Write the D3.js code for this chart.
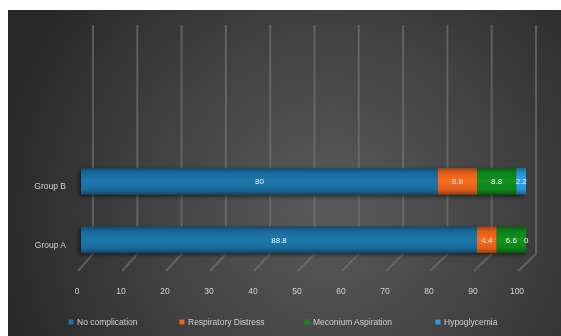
<!DOCTYPE html>
<html>
<head>
<meta charset="utf-8">
<script src="https://cdnjs.cloudflare.com/ajax/libs/d3/7.8.5/d3.min.js"></script>
<style>
  body { margin: 0; background: #fff; }
  svg { display: block; font-family: "Liberation Sans", Arial, sans-serif; }
</style>
</head>
<body>
<div id="chart"></div>
<script>
var groups = ["Group A", "Group B"];
var seriesNames = ["No complication", "Respiratory Distress", "Meconium Aspiration", "Hypoglycemia"];
var noComplication = [88.8, 80];
var respiratoryDistress = [4.4, 8.8];
var meconiumAspiration = [6.6, 8.8];
var hypoglycemia = [0, 2.2];
var tickValues = [0, 10, 20, 30, 40, 50, 60, 70, 80, 90, 100];
var colors = ["#1b72a6", "#f0661c", "#118c1c", "#2b9de2"];

var W = 561, H = 336;

var svg = d3.select("#chart").append("svg")
    .attr("width", W)
    .attr("height", H);

var defs = svg.append("defs");

// dark radial background
var bg = defs.append("radialGradient").attr("id", "bg")
    .attr("gradientUnits", "userSpaceOnUse")
    .attr("cx", 330).attr("cy", 210).attr("r", 340);
bg.append("stop").attr("offset", "0%").attr("stop-color", "#5a5a5a");
bg.append("stop").attr("offset", "50%").attr("stop-color", "#434343");
bg.append("stop").attr("offset", "100%").attr("stop-color", "#282828");

// cylinder-ish shading per series
colors.forEach(function (c, i) {
    var g = defs.append("linearGradient").attr("id", "bar" + i)
        .attr("x1", 0).attr("y1", 0).attr("x2", 0).attr("y2", 1);
    var base = d3.color(c);
    g.append("stop").attr("offset", "0%").attr("stop-color", base.darker(1.2));
    g.append("stop").attr("offset", "18%").attr("stop-color", base.darker(0.2));
    g.append("stop").attr("offset", "50%").attr("stop-color", base.brighter(0.15));
    g.append("stop").attr("offset", "82%").attr("stop-color", base.darker(0.2));
    g.append("stop").attr("offset", "100%").attr("stop-color", base.darker(1.3));
});

var shadow = defs.append("filter").attr("id", "shadow")
    .attr("x", "-5%").attr("y", "-30%").attr("width", "110%").attr("height", "160%");
shadow.append("feDropShadow").attr("dx", -2).attr("dy", 2).attr("stdDeviation", 2)
    .attr("flood-color", "#000").attr("flood-opacity", 0.55);

var blur = defs.append("filter").attr("id", "soft");
blur.append("feGaussianBlur").attr("stdDeviation", 0.7);

svg.append("rect")
    .attr("x", 8).attr("y", 10)
    .attr("width", W - 8).attr("height", H - 10)
    .attr("fill", "url(#bg)");

// scales: front floor (labels), bars, back wall (gridlines)
var xAxisScale = d3.scaleLinear().domain([0, 100]).range([77, 517]);
var x = d3.scaleLinear().domain([0, 100]).range([81, 527]);
var xWall = d3.scaleLinear().domain([0, 100]).range([93, 536]);

var y = d3.scaleBand()
    .domain(["Group B", "Group A"])
    .range([152, 269])
    .paddingInner(0.55)
    .paddingOuter(0.275);

// gridlines: back wall vertical + floor diagonal
var grid = svg.append("g").attr("filter", "url(#soft)");
grid.selectAll(".wall")
    .data(tickValues)
    .enter().append("path")
    .attr("d", function (d) {
        return "M" + xWall(d) + ",25V254L" + (xAxisScale(d) + 1) + ",271";
    })
    .attr("fill", "none")
    .attr("stroke", "#767676")
    .attr("stroke-opacity", 0.6)
    .attr("stroke-width", 2);

// stack data
var table = groups.map(function (g, i) {
    return {
        group: g,
        "No complication": noComplication[i],
        "Respiratory Distress": respiratoryDistress[i],
        "Meconium Aspiration": meconiumAspiration[i],
        "Hypoglycemia": hypoglycemia[i]
    };
});
var stacked = d3.stack().keys(seriesNames)(table);

var bars = svg.append("g").attr("filter", "url(#shadow)");
stacked.forEach(function (layer, i) {
    bars.selectAll(".s" + i)
        .data(layer)
        .enter().append("rect")
        .attr("x", function (d) { return x(d[0]); })
        .attr("y", function (d) { return y(d.data.group); })
        .attr("width", function (d) { return x(d[1]) - x(d[0]); })
        .attr("height", y.bandwidth())
        .attr("fill", "url(#bar" + i + ")");
});

// data labels
var labels = svg.append("g").attr("filter", "url(#soft)");
stacked.forEach(function (layer, i) {
    labels.selectAll(".l" + i)
        .data(layer)
        .enter().append("text")
        .attr("x", function (d) { return x((d[0] + d[1]) / 2); })
        .attr("y", function (d) { return y(d.data.group) + y.bandwidth() / 2; })
        .attr("dy", "0.35em")
        .attr("text-anchor", "middle")
        .attr("font-size", 8)
        .attr("fill", "#e8f2ff")
        .text(function (d) { return d.data[layer.key]; });
});

// category labels
svg.append("g").attr("filter", "url(#soft)")
    .selectAll("text")
    .data(groups)
    .enter().append("text")
    .attr("x", 66)
    .attr("y", function (d) { return y(d) + y.bandwidth() / 2 + 8; })
    .attr("text-anchor", "end")
    .attr("font-size", 8.5)
    .attr("fill", "#d0d0d0")
    .text(function (d) { return d; });

// x tick labels
svg.append("g").attr("filter", "url(#soft)")
    .selectAll("text")
    .data(tickValues)
    .enter().append("text")
    .attr("x", function (d) { return xAxisScale(d); })
    .attr("y", 294)
    .attr("text-anchor", "middle")
    .attr("font-size", 8.5)
    .attr("fill", "#d0d0d0")
    .text(function (d) { return d; });

// legend
var legendX = [71, 182, 307, 438];
var legend = svg.append("g").attr("filter", "url(#soft)")
    .selectAll("g")
    .data(seriesNames)
    .enter().append("g")
    .attr("transform", function (d, i) { return "translate(" + legendX[i] + ",322)"; });
legend.append("rect")
    .attr("x", -2.5).attr("y", -2.5)
    .attr("width", 5).attr("height", 5)
    .attr("fill", function (d, i) { return colors[i]; });
legend.append("text")
    .attr("x", 6)
    .attr("dy", "0.35em")
    .attr("font-size", 8.5)
    .attr("fill", "#cfcfcf")
    .text(function (d) { return d; });
</script>
</body>
</html>
